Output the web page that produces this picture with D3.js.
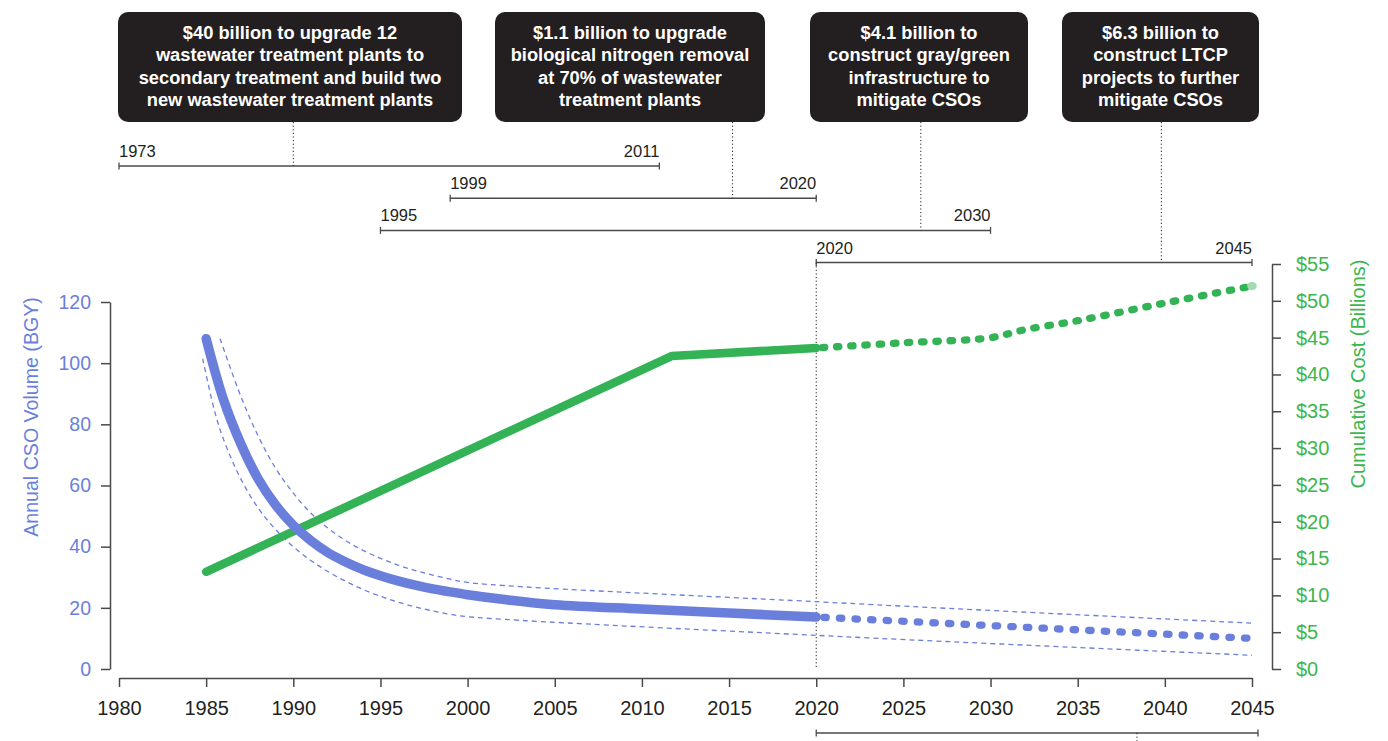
<!DOCTYPE html>
<html><head><meta charset="utf-8">
<script src="https://cdn.jsdelivr.net/npm/d3@7"></script>
<style>
body{margin:0;background:#fff;}
svg{display:block;font-family:"Liberation Sans",Arial,sans-serif;}
</style></head><body>
<svg id="c" width="1388" height="741"></svg>
<script>
// ---------- DATA ----------
const cso_years  = [1985,1986,1987,1988,1989,1990,1991,1992,1993,1994,1995,1996,1997,1998,1999,2000,2002,2005,2010,2015,2020];
const cso_values = [108, 88, 73.5,62, 53.5,47, 42, 38, 35, 32.5,30.5,28.8,27.4,26.2,25.2,24.3,22.8,21, 19.6,18.3,17];
const cso_forecast_years  = [2020, 2045];
const cso_forecast_values = [17, 10];
const cso_upper_years  = [1985.8,1987,1988,1989,1990,1991,1992,1993,1994,1995,1996,1997,1998,1999,2000,2020,2045];
const cso_upper_values = [108,   89,  76,  65.5,57.5,51,  46,  42,  38.8,36.2,34,  32.2,30.7,29.4,28.3,22,  15];
const cso_lower_years  = [1984.8,1985.5,1986,1987,1988,1989,1990,1991,1992,1993,1994,1995,1996,1997,1998,1999,2000,2020,2045];
const cso_lower_values = [101.5, 84,    75,  62,  52.5,45.5,40,  35.5,31.8,28.7,26,  23.8,21.9,20.3,19,  17.9,17.1,11,  4.5];
const cost_years  = [1985, 2011.7, 2020];
const cost_values = [13.2, 42.5, 43.6];
const cost_forecast_years  = [2020, 2025, 2030, 2032, 2035, 2040, 2045];
const cost_forecast_values = [43.6, 44.3, 45.0, 46.1, 47.3, 49.7, 52.0];

const x_ticks     = [1980,1985,1990,1995,2000,2005,2010,2015,2020,2025,2030,2035,2040,2045];
const cso_ticks   = [0,20,40,60,80,100,120];
const cost_ticks  = [0,5,10,15,20,25,30,35,40,45,50,55];

const annotation_text = [
  ["$40 billion to upgrade 12","wastewater treatment plants to","secondary treatment and build two","new wastewater treatment plants"],
  ["$1.1 billion to upgrade","biological nitrogen removal","at 70% of wastewater","treatment plants"],
  ["$4.1 billion to","construct gray/green","infrastructure to","mitigate CSOs"],
  ["$6.3 billion to","construct LTCP","projects to further","mitigate CSOs"]
];
const bracket_start = [1973, 1999, 1995, 2020];
const bracket_end   = [2011, 2020, 2030, 2045];
const annotation_year = [1990, 2015.2, 2026, 2039.8];
const bottom_bracket = [2020, 2045];
const bottom_bracket_mark = 2038.4;

// ---------- LAYOUT ----------
const BLUE = "#6a7fdb", GREEN = "#33b356", GREEN_T = "#3cb64e", INK = "#231f20", AX = "#4a4a4a";
const FONT = "Liberation Sans, Arial, sans-serif";
const svg = d3.select("#c");
const x = d3.scaleLinear().domain([1980,2045]).range([119,1252]);
const xc = x.copy().clamp(true);
const yL = d3.scaleLinear().domain([0,120]).range([669,302]);
const yR = d3.scaleLinear().domain([0,55]).range([669,264]);

// Axes
const gx = svg.append("g").attr("transform","translate(0,678)")
  .call(d3.axisBottom(x).tickValues(x_ticks).tickFormat(d3.format("d")).tickSize(9).tickSizeOuter(0).tickPadding(14));
gx.selectAll("path,line").attr("stroke",AX).attr("stroke-width",1.5);
gx.selectAll("text").attr("fill",INK).style("font-size","20px").style("font-family",FONT);

const gl = svg.append("g").attr("transform","translate(110,0)")
  .call(d3.axisLeft(yL).tickValues(cso_ticks).tickSize(9).tickSizeOuter(0).tickPadding(10));
gl.selectAll("path,line").attr("stroke",AX).attr("stroke-width",1.5);
gl.selectAll("text").attr("fill",BLUE).style("font-size","19.5px").style("font-family",FONT);

const gr = svg.append("g").attr("transform","translate(1272,0)")
  .call(d3.axisRight(yR).tickValues(cost_ticks).tickFormat(d=>"$"+d).tickSize(9).tickSizeOuter(0).tickPadding(15));
gr.selectAll("path,line").attr("stroke",AX).attr("stroke-width",1.5);
gr.selectAll("text").attr("fill",GREEN_T).style("font-size","20px").style("font-family",FONT);

svg.append("text").attr("transform","translate(31,417) rotate(-90)")
  .attr("text-anchor","middle").attr("dominant-baseline","central")
  .attr("fill",BLUE).style("font-size","19.6px").text("Annual CSO Volume (BGY)");
svg.append("text").attr("transform","translate(1358,374) rotate(-90)")
  .attr("text-anchor","middle").attr("dominant-baseline","central")
  .attr("fill",GREEN_T).style("font-size","20px").text("Cumulative Cost (Billions)");

// Annotation boxes
const boxX = [[118,462],[495,765],[810,1028],[1062,1259]];
const boxTop = 12, boxBot = 122;
annotation_text.forEach((lines,i)=>{
  const [l,r] = boxX[i];
  svg.append("rect").attr("x",l).attr("y",boxTop).attr("width",r-l).attr("height",boxBot-boxTop)
    .attr("rx",10).attr("fill",INK);
  const t = svg.append("text").attr("text-anchor","middle").attr("fill","#fff")
    .style("font-size","18.3px").style("font-weight","bold");
  lines.forEach((s,k)=>{
    t.append("tspan").attr("x",(l+r)/2).attr("y",39+k*22.3).text(s);
  });
});

// Brackets
const rowY = i => 166 + i*32.2;
bracket_start.forEach((s,i)=>{
  const y = rowY(i), x0 = xc(s), x1 = xc(bracket_end[i]);
  const g = svg.append("g");
  g.append("line").attr("x1",x0).attr("x2",x1).attr("y1",y).attr("y2",y).attr("stroke",AX).attr("stroke-width",1.5);
  [x0,x1].forEach(xx=>g.append("line").attr("x1",xx).attr("x2",xx).attr("y1",y-3.5).attr("y2",y+3.5).attr("stroke",AX).attr("stroke-width",1.3));
  g.append("text").attr("x",x0).attr("y",y-9).attr("fill",INK).style("font-size","16.5px").text(s);
  g.append("text").attr("x",x1).attr("y",y-9).attr("text-anchor","end").attr("fill",INK).style("font-size","16.5px").text(bracket_end[i]);
  svg.append("line").attr("x1",x(annotation_year[i])).attr("x2",x(annotation_year[i]))
    .attr("y1",boxBot).attr("y2",y).attr("stroke",INK).attr("stroke-width",1).attr("stroke-dasharray","1.2 2.4");
});

// bottom bracket
{
  const y = 733, x0 = x(bottom_bracket[0]), x1 = x(bottom_bracket[1]);
  svg.append("line").attr("x1",x0).attr("x2",x1+6).attr("y1",y).attr("y2",y).attr("stroke",AX).attr("stroke-width",1.5);
  [x0,x1+6].forEach(xx=>svg.append("line").attr("x1",xx).attr("x2",xx).attr("y1",y-3.5).attr("y2",y+3.5).attr("stroke",AX).attr("stroke-width",1.3));
  svg.append("line").attr("x1",x(bottom_bracket_mark)).attr("x2",x(bottom_bracket_mark)).attr("y1",y).attr("y2",741)
    .attr("stroke",INK).attr("stroke-width",1).attr("stroke-dasharray","1.2 2.4");
}

// 2020 reference line
svg.append("line").attr("x1",x(2020)).attr("x2",x(2020)).attr("y1",rowY(3)).attr("y2",668)
  .attr("stroke",INK).attr("stroke-width",1).attr("stroke-dasharray","1.2 2.4");

// Lines
const zip = (a,b)=>a.map((v,i)=>[v,b[i]]);
const lineL = d3.line().x(d=>x(d[0])).y(d=>yL(d[1])).curve(d3.curveCatmullRom.alpha(0.5));
const lineR = d3.line().x(d=>x(d[0])).y(d=>yR(d[1]));
const lineRc = d3.line().x(d=>x(d[0])).y(d=>yR(d[1])).curve(d3.curveCatmullRom.alpha(0.5));

svg.append("path").attr("d",lineL(zip(cso_upper_years,cso_upper_values)))
  .attr("fill","none").attr("stroke",BLUE).attr("stroke-width",1.3).attr("stroke-dasharray","5 4");
svg.append("path").attr("d",lineL(zip(cso_lower_years,cso_lower_values)))
  .attr("fill","none").attr("stroke",BLUE).attr("stroke-width",1.3).attr("stroke-dasharray","5 4");

svg.append("path").attr("d",lineR(zip(cost_years,cost_values)))
  .attr("fill","none").attr("stroke",GREEN).attr("stroke-width",8.5).attr("stroke-linecap","round").attr("stroke-linejoin","round");
svg.append("path").attr("d",lineL(zip(cso_years,cso_values)))
  .attr("fill","none").attr("stroke",BLUE).attr("stroke-width",9.5).attr("stroke-linecap","round").attr("stroke-linejoin","round");

svg.append("path").attr("d",lineL(zip(cso_forecast_years,cso_forecast_values)))
  .attr("fill","none").attr("stroke",BLUE).attr("stroke-width",7.3).attr("stroke-linecap","round")
  .attr("stroke-dasharray","2.4 13.2").attr("stroke-dashoffset",8);
svg.append("path").attr("d",lineRc(zip(cost_forecast_years,cost_forecast_values)))
  .attr("fill","none").attr("stroke",GREEN).attr("stroke-width",7.3).attr("stroke-linecap","round")
  .attr("stroke-dasharray","2.4 11.8").attr("stroke-dashoffset",8);
// faded final point
const lastI = cost_forecast_years.length-1;
svg.append("ellipse").attr("cx",x(cost_forecast_years[lastI])).attr("cy",yR(cost_forecast_values[lastI]))
  .attr("rx",4.8).attr("ry",4.2).attr("fill","#a4dbb3");
</script>
</body></html>
